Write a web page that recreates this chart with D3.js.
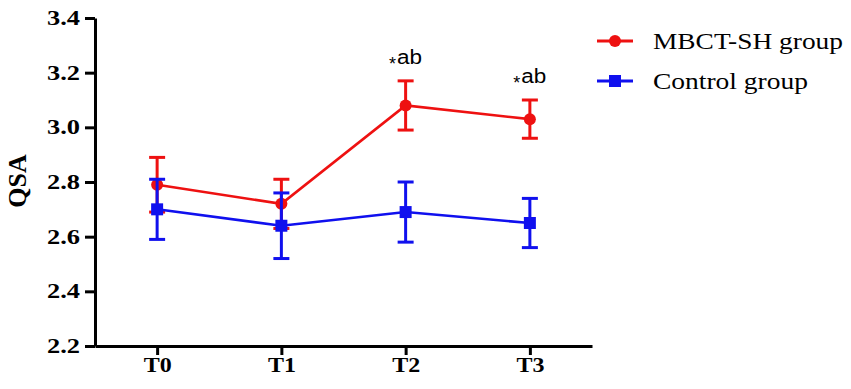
<!DOCTYPE html>
<html>
<head>
<meta charset="utf-8">
<script src="https://cdn.jsdelivr.net/npm/d3@7"></script>
<style>
  body { margin: 0; background: #fff; }
  svg { display: block; }
</style>
</head>
<body>
<div id="chart"></div>
<script>
// timepoints and tick labels
const timepoints = ["T0", "T1", "T2", "T3"];
const yTicks = [2.2, 2.4, 2.6, 2.8, 3.0, 3.2, 3.4];

// group means and error (SD)
const mbctMean = [2.79, 2.72, 3.08, 3.03];
const mbctErr = [0.10, 0.09, 0.09, 0.07];
const controlMean = [2.70, 2.64, 2.69, 2.65];
const controlErr = [0.11, 0.12, 0.11, 0.09];

// significance marks above the MBCT-SH points
const marks = ["", "", "ab", "ab"];

const seriesNames = ["MBCT-SH group", "Control group"];

function renderChart(containerSelector) {
  const width = 851, height = 389;
  const serif = "'Liberation Serif', 'Times New Roman', serif";

  d3.select(containerSelector).html("");

  const svg = d3.select(containerSelector).append("svg")
    .attr("width", width)
    .attr("height", height);

  const x = d3.scalePoint()
    .domain(timepoints)
    .range([95, 592])
    .padding(0.5);

  const y = d3.scaleLinear()
    .domain([2.2, 3.4])
    .range([346, 18]);

  // Axes
  const yAxis = svg.append("g")
    .attr("transform", "translate(95,0)")
    .call(d3.axisLeft(y).tickValues(yTicks).tickFormat(d3.format(".1f")).tickSize(10).tickSizeOuter(0).tickPadding(5));

  const xAxis = svg.append("g")
    .attr("transform", "translate(0,346)")
    .call(d3.axisBottom(x).tickSize(9).tickSizeOuter(0).tickPadding(3));

  [xAxis, yAxis].forEach(g => {
    g.attr("font-size", null).attr("font-family", null);
    g.select(".domain").attr("stroke", "#000").attr("stroke-width", 3);
    g.selectAll(".tick line").attr("stroke", "#000").attr("stroke-width", 3);
    g.selectAll(".tick text")
      .attr("fill", "#000")
      .style("font-family", serif)
      .style("font-weight", "bold")
      .style("font-size", "20px");
  });
  yAxis.selectAll(".tick text").attr("textLength", 33).attr("lengthAdjust", "spacingAndGlyphs");
  xAxis.selectAll(".tick text").attr("textLength", 28).attr("lengthAdjust", "spacingAndGlyphs");

  svg.append("text")
    .attr("transform", "translate(26,181) rotate(-90)")
    .style("text-anchor", "middle")
    .style("font-family", serif)
    .style("font-weight", "bold")
    .style("font-size", "26px")
    .text("QSA");

  const series = [
    { name: seriesNames[0], mean: mbctMean, err: mbctErr, color: "#ee1111", shape: "circle" },
    { name: seriesNames[1], mean: controlMean, err: controlErr, color: "#1010ee", shape: "square" }
  ];

  const line = d3.line()
    .x((d, i) => x(timepoints[i]))
    .y(d => y(d));

  const capHalf = 8;

  series.forEach(s => {
    const g = svg.append("g");

    g.append("path")
      .datum(s.mean)
      .attr("fill", "none")
      .attr("stroke", s.color)
      .attr("stroke-width", 2.6)
      .attr("d", line);

    const bars = g.selectAll(".err")
      .data(s.mean.map((m, i) => ({ t: timepoints[i], lo: m - s.err[i], hi: m + s.err[i] })))
      .enter().append("g")
      .attr("stroke", s.color)
      .attr("stroke-width", 3);

    bars.append("line")
      .attr("x1", d => x(d.t)).attr("x2", d => x(d.t))
      .attr("y1", d => y(d.lo)).attr("y2", d => y(d.hi));
    bars.append("line")
      .attr("x1", d => x(d.t) - capHalf).attr("x2", d => x(d.t) + capHalf)
      .attr("y1", d => y(d.hi)).attr("y2", d => y(d.hi));
    bars.append("line")
      .attr("x1", d => x(d.t) - capHalf).attr("x2", d => x(d.t) + capHalf)
      .attr("y1", d => y(d.lo)).attr("y2", d => y(d.lo));

    const pts = g.selectAll(".pt")
      .data(s.mean)
      .enter();
    if (s.shape === "circle") {
      pts.append("circle")
        .attr("cx", (d, i) => x(timepoints[i]))
        .attr("cy", d => y(d))
        .attr("r", 6)
        .attr("fill", s.color);
    } else {
      pts.append("rect")
        .attr("x", (d, i) => x(timepoints[i]) - 6)
        .attr("y", d => y(d) - 6)
        .attr("width", 12)
        .attr("height", 12)
        .attr("fill", s.color);
    }
  });

  // significance labels: small asterisk sitting low, then "ab"
  const markText = svg.selectAll(".mark")
    .data(marks.map((m, i) => ({ m, i })).filter(d => d.m))
    .enter().append("text")
    .attr("x", d => x(timepoints[d.i]))
    .attr("y", d => y(mbctMean[d.i] + mbctErr[d.i]) - 17)
    .style("text-anchor", "middle")
    .style("font-family", "'Liberation Sans', Arial, sans-serif")
    .style("font-size", "20px");
  markText.append("tspan")
    .attr("dy", 6)
    .style("font-size", "18px")
    .text("*");
  markText.append("tspan")
    .attr("dy", -6)
    .attr("dx", 1)
    .attr("textLength", 25)
    .attr("lengthAdjust", "spacingAndGlyphs")
    .text(d => d.m);

  // Legend
  const legend = svg.append("g")
    .attr("transform", "translate(597,41)");

  const items = legend.selectAll(".item")
    .data(series)
    .enter().append("g")
    .attr("transform", (d, i) => `translate(0,${i * 40})`);

  items.append("line")
    .attr("x1", 0).attr("x2", 36)
    .attr("stroke", d => d.color)
    .attr("stroke-width", 3);

  items.each(function (d) {
    const it = d3.select(this);
    if (d.shape === "circle") {
      it.append("circle").attr("cx", 18).attr("r", 6).attr("fill", d.color);
    } else {
      it.append("rect").attr("x", 12).attr("y", -6).attr("width", 12).attr("height", 12).attr("fill", d.color);
    }
  });

  items.append("text")
    .attr("x", 56)
    .attr("y", 8)
    .style("font-family", serif)
    .style("font-size", "23px")
    .attr("textLength", (d, i) => i === 0 ? 190 : 155)
    .attr("lengthAdjust", "spacingAndGlyphs")
    .text(d => d.name);
}

renderChart("#chart");
</script>
</body>
</html>
